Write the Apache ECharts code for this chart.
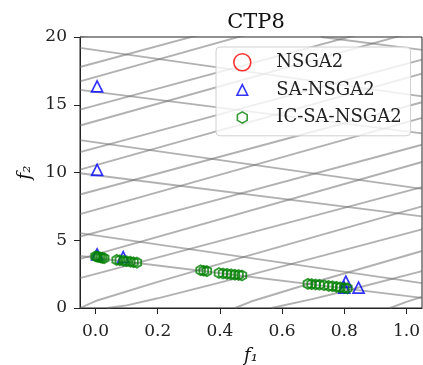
<!DOCTYPE html>
<html><head><meta charset="utf-8">
<script src="https://cdn.jsdelivr.net/npm/echarts@6/dist/echarts.min.js"></script>
<style>html,body{margin:0;padding:0;background:#fff}#c{width:423px;height:365px}</style>
</head><body><div id="c"></div>
<script>
// ---------- data ----------
const chartTitle = 'CTP8';
const seriesNames = ['NSGA2', 'SA-NSGA2', 'IC-SA-NSGA2'];
const xTicks = [0, 0.2, 0.4, 0.6, 0.8, 1.0];
const yTicks = [0, 5, 10, 15, 20];

const nsga2 = [];
const saNsga2 = [
  [0.005, 16.35], [0.005, 10.2], [0.005, 3.95], [0.089, 3.75],
  [0.805, 1.95], [0.800, 1.50], [0.846, 1.50]
];
const icSaNsga2 = [
  [0.000, 3.82], [0.005, 3.79], [0.010, 3.76], [0.016, 3.73], [0.022, 3.70], [0.028, 3.67],
  [0.068, 3.55], [0.078, 3.52], [0.090, 3.48], [0.100, 3.45], [0.112, 3.42], [0.122, 3.38], [0.133, 3.35],
  [0.338, 2.78], [0.348, 2.75], [0.358, 2.72],
  [0.397, 2.58], [0.410, 2.55], [0.423, 2.52], [0.436, 2.49], [0.448, 2.46], [0.460, 2.43], [0.471, 2.40],
  [0.683, 1.78], [0.695, 1.76], [0.708, 1.74], [0.720, 1.72], [0.735, 1.68], [0.750, 1.63],
  [0.762, 1.60], [0.775, 1.56], [0.787, 1.52], [0.800, 1.48], [0.810, 1.45]
];

// constraint boundary edges (falling family)
const boundFalling = [
  [[-0.05, 3.84], [1.05, 0.744]],
  [[-0.05, 5.53], [1.05, 1.84]],
  [[-0.05, 9.94], [1.05, 6.76]],
  [[-0.05, 12.39], [1.05, 8.79]],
  [[-0.05, 16.10], [1.05, 12.89]],
  [[-0.05, 19.20], [1.05, 15.62]],
  [[0.726, 20.0], [1.05, 19.05]]
];
// constraint boundary edges (rising family)
const boundRising = [
  [[-0.05, 0.0], [0, 0.515], [0.2, 1.924], [0.5, 3.917], [1.05, 7.506]],
  [[0.038, 0], [0.1, 0.19], [0.2, 0.716], [0.5, 2.465], [1.05, 5.802]],
  [[0.449, 0], [0.5, 0.479], [0.7, 1.884], [1.05, 4.208]],
  [[0.566, 0], [0.7, 0.670], [0.8, 1.239], [1.05, 2.72]],
  [[0.947, 0], [1.0, 0.45], [1.05, 0.815]],
  [[-0.05, 3.625], [1.05, 10.777]],
  [[-0.05, 2.205], [1.05, 8.915]],
  [[-0.05, 6.933], [1.05, 14.037]],
  [[-0.05, 5.271], [1.05, 12.046]],
  [[-0.05, 10.21], [1.05, 17.291]],
  [[-0.05, 8.379], [1.05, 15.184]],
  [[-0.05, 13.47], [1.05, 20.541]],
  [[-0.05, 11.507], [1.05, 18.326]],
  [[-0.05, 16.725], [1.05, 23.8]],
  [[-0.05, 14.644], [1.05, 21.46]],
  [[-0.05, 19.976], [1.05, 27.0]],
  [[-0.05, 17.785], [1.05, 24.6]]
];

// ---------- chart ----------
const FONT = 'DejaVu Serif';
const HEX = 'path://M0,-10L8.66,-5L8.66,5L0,10L-8.66,5L-8.66,-5Z';
const TRI = 'path://M0,-10L10,10L-10,10Z';
const HEX_LEG = 'path://M-15,-15M15,15M0,-10L8.66,-5L8.66,5L0,10L-8.66,5L-8.66,-5Z';
const TRI_LEG = 'path://M-16,-16M16,16M0,-10L10,10L-10,10Z';

const lineSeries = boundFalling.concat(boundRising).map(pts => ({
  type: 'line', data: pts, showSymbol: false, symbol: 'none', silent: true,
  clip: true, z: 1, animation: false,
  lineStyle: { color: 'rgba(105,105,105,0.52)', width: 1.9 }
}));

const chart = echarts.init(document.getElementById('c'), null, { renderer: 'canvas' });
chart.setOption({
  animation: false,
  backgroundColor: '#fff',
  title: {
    text: chartTitle, left: 251, top: 7, textAlign: 'center',
    textStyle: { fontFamily: FONT, fontSize: 21, fontWeight: 'normal', color: '#111' }
  },
  grid: { left: 80, top: 37, width: 342, height: 271, show: true, borderColor: '#222', borderWidth: 1,
    containLabel: false, outerBoundsMode: 'none' },
  xAxis: {
    type: 'value', min: -0.05, max: 1.05,
    name: 'f\u2081', nameLocation: 'middle', nameGap: 39,
    nameTextStyle: { fontFamily: FONT, fontStyle: 'italic', fontSize: 18, color: '#111' },
    axisLine: { show: true, onZero: false, lineStyle: { color: '#222', width: 1 } },
    axisTick: { show: true, length: 6, customValues: xTicks, lineStyle: { color: '#222' } },
    axisLabel: { customValues: xTicks, margin: 15, fontFamily: FONT, fontSize: 17, color: '#222',
      formatter: v => v.toFixed(1) },
    splitLine: { show: false }
  },
  yAxis: {
    type: 'value', min: yTicks[0], max: yTicks[yTicks.length - 1], interval: 5,
    name: 'f\u2082', nameLocation: 'middle', nameGap: 45,
    nameTextStyle: { fontFamily: FONT, fontStyle: 'italic', fontSize: 18, color: '#111' },
    axisLine: { show: true, onZero: false, lineStyle: { color: '#222', width: 1 } },
    axisTick: { show: true, length: 6, lineStyle: { color: '#222' } },
    axisLabel: { margin: 13, fontFamily: FONT, fontSize: 17, color: '#222' },
    splitLine: { show: false }
  },
  legend: {
    orient: 'vertical', left: 216, top: 47,
    padding: [6, 9, 9, 17], itemGap: 9, itemWidth: 30, itemHeight: 17,
    backgroundColor: 'rgba(255,255,255,0.8)', borderColor: '#d0d0d0', borderWidth: 1, borderRadius: 4,
    textStyle: { fontFamily: FONT, fontSize: 18, color: '#222', padding: [0, 0, 0, 14] },
    itemStyle: { borderWidth: 1.6 },
    data: [
      { name: seriesNames[0], icon: 'circle' },
      { name: seriesNames[1], icon: TRI_LEG },
      { name: seriesNames[2], icon: HEX_LEG }
    ],
    z: 10
  },
  series: lineSeries.concat([
    { name: seriesNames[0], type: 'scatter', data: nsga2, symbol: 'circle', symbolSize: 14, z: 3,
      itemStyle: { color: 'rgba(0,0,0,0)', borderColor: '#ff0000', borderWidth: 1.6 } },
    { name: seriesNames[1], type: 'scatter', data: saNsga2, symbol: TRI, symbolSize: 11, z: 4,
      itemStyle: { color: 'rgba(0,0,0,0)', borderColor: '#0000ff', borderWidth: 1.7 } },
    { name: seriesNames[2], type: 'scatter', data: icSaNsga2, symbol: HEX, symbolSize: 10, symbolKeepAspect: true, z: 5,
      itemStyle: { color: 'rgba(0,0,0,0)', borderColor: '#008000', borderWidth: 1.8 } }
  ])
});
</script>
</body></html>
